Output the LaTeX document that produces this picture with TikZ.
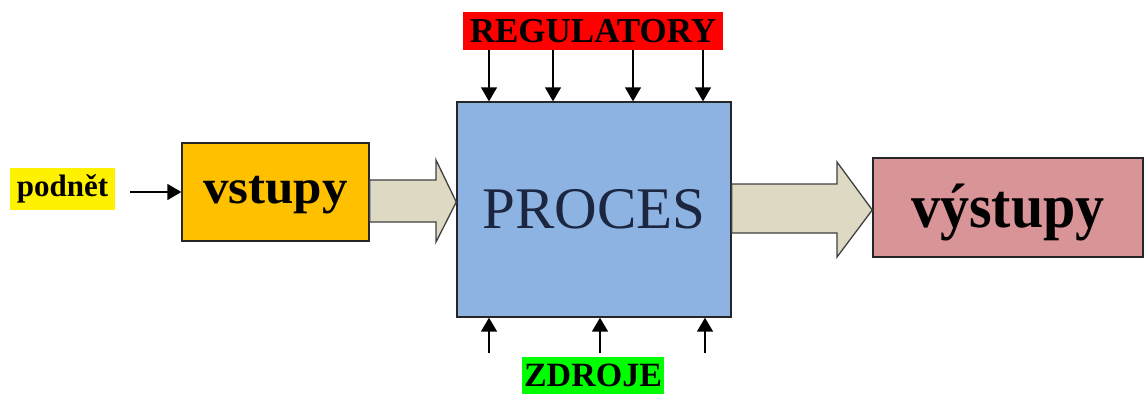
\documentclass[tikz,border=0pt]{standalone}
\usepackage{fontspec}
\setmainfont{Liberation Serif}
\usetikzlibrary{arrows.meta}
\definecolor{orangebox}{HTML}{FFC000}
\definecolor{bluebox}{HTML}{8DB3E2}
\definecolor{pinkbox}{HTML}{D99497}
\definecolor{tanarrow}{HTML}{DDD9C3}
\definecolor{navytext}{HTML}{1C2640}
\tikzset{
  box/.style={draw=black!85, line width=1.4pt, inner sep=0pt, anchor=center},
  tag/.style={inner sep=0pt, anchor=center, font=\bfseries},
  thin/.style={line width=1.6pt, -{Triangle[width=16pt,length=14pt]}},
  blockarrow/.style={draw=black!75, fill=tanarrow, line width=1.3pt, line join=miter}
}
\begin{document}
\begin{tikzpicture}[x=1pt,y=-1pt]
\useasboundingbox (0,0) rectangle (1146,394);
% boxes
\node[box, fill=orangebox, minimum width=187, minimum height=98, text height=34pt, text depth=12pt, font=\bfseries\fontsize{51}{51}\selectfont] (vst) at (275.5,192) {\scalebox{1}[0.95]{vstupy}};
\node[box, fill=bluebox, minimum width=274, minimum height=215, text=navytext, font=\fontsize{59}{59}\selectfont] (proc) at (594,209.5) {PROCES};
\node[box, fill=pinkbox, minimum width=270, minimum height=99, text height=45pt, text depth=6pt, font=\bfseries\fontsize{58}{58}\selectfont] (vyst) at (1008,207.5) {\scalebox{1}[1.08]{výstupy}};
% labels
\node[tag, fill=yellow, minimum width=105, minimum height=42, font=\bfseries\fontsize{31}{31}\selectfont] (podnet) at (62.5,189) {podnět};
\node[tag, fill=red, minimum width=260, minimum height=38, font=\bfseries\fontsize{35}{35}\selectfont] (reg) at (593,31) {REGULATORY};
\node[tag, fill=green, minimum width=142, minimum height=37, font=\bfseries\fontsize{34}{34}\selectfont] (zdr) at (593,375.5) {ZDROJE};
% podnet arrow
\draw[thin] (130,0 |- vst.west) -- (vst.west);
% block arrows
\draw[blockarrow] (vst.east |- 0,180) -- (436,180) -- (436,160) -- (proc.west |- 0,202) -- (436,242) -- (436,222) -- (vst.east |- 0,222) -- cycle;
\draw[blockarrow] (proc.east |- 0,184) -- (837,184) -- (837,162) -- (vyst.west |- 0,210) -- (837,257) -- (837,233) -- (proc.east |- 0,233) -- cycle;
% regulator arrows
\foreach \x in {489,553,633,703} {
  \draw[thin] (\x,0 |- reg.south) -- (\x,0 |- proc.north);
}
% resource arrows
\foreach \x in {489,600,705} {
  \coordinate (r\x) at (\x,353);
  \draw[thin] (r\x) -- (\x,0 |- proc.south);
}
\end{tikzpicture}
\end{document}
